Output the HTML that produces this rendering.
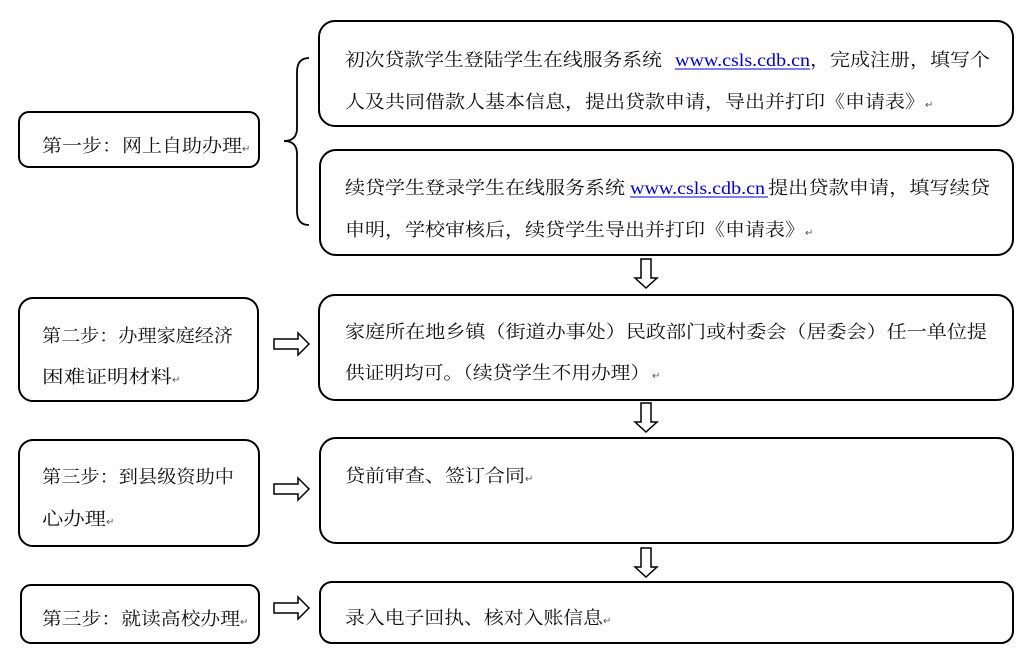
<!DOCTYPE html>
<html><head><meta charset="utf-8"><style>
html,body{margin:0;padding:0;background:#fff;}
svg text{font-family:"Liberation Serif","Noto Serif CJK SC",serif;font-size:18px;fill:#111;}
.r{font-size:10px;fill:#555;}
.l{fill:#0000cc;font-family:"Liberation Serif",serif;}
</style></head><body>
<svg width="1021" height="653" viewBox="0 0 1021 653" xmlns="http://www.w3.org/2000/svg">
<g fill="none" stroke="#000" stroke-width="2">
<rect x="19" y="112" width="240" height="55" rx="10"/>
<rect x="19" y="298" width="239" height="103" rx="14"/>
<rect x="19" y="440" width="240" height="106" rx="14"/>
<rect x="21" y="585" width="238" height="58" rx="10"/>
<rect x="319" y="21" width="694" height="105" rx="16"/>
<rect x="320" y="150" width="693" height="105" rx="16"/>
<rect x="319" y="295" width="694" height="105" rx="16"/>
<rect x="320" y="438" width="693" height="105" rx="16"/>
<rect x="320" y="582" width="693" height="61" rx="12"/>
<path d="M309 58 Q297 58 297 72 L297 128 Q297 141 284 141 Q297 141 297 154 L297 211 Q297 225 309 225" stroke-width="1.8"/>
</g>
<g fill="#fff" stroke="#000" stroke-width="1.5">
<path d="M641 259 h10 v19 h6 l-11 10 l-11 -10 h6 z"/>
<path d="M641 403 h10 v19 h6 l-11 10 l-11 -10 h6 z"/>
<path d="M641 548 h10 v19 h6 l-11 10 l-11 -10 h6 z"/>
<path d="M274 339 h24 v-6 l11 11 l-11 11 v-6 h-24 z"/>
<path d="M274 484 h24 v-6 l11 11 l-11 11 v-6 h-24 z"/>
<path d="M274 603 h24 v-6 l11 11 l-11 11 v-6 h-24 z"/>
</g>
<text x="42" y="152" textLength="200" lengthAdjust="spacingAndGlyphs">第一步：网上自助办理</text><text class="r" x="242" y="152">↵</text>
<text x="42" y="342" textLength="191" lengthAdjust="spacingAndGlyphs">第二步：办理家庭经济</text>
<text x="42" y="383" textLength="130" lengthAdjust="spacingAndGlyphs">困难证明材料</text><text class="r" x="172" y="383">↵</text>
<text x="42" y="483" textLength="192" lengthAdjust="spacingAndGlyphs">第三步：到县级资助中</text>
<text x="42" y="525" textLength="64" lengthAdjust="spacingAndGlyphs">心办理</text><text class="r" x="106" y="525">↵</text>
<text x="42" y="625" textLength="198" lengthAdjust="spacingAndGlyphs">第三步：就读高校办理</text><text class="r" x="240" y="625">↵</text>

<text x="345" y="66" textLength="317" lengthAdjust="spacingAndGlyphs">初次贷款学生登陆学生在线服务系统</text>
<text class="l" x="675" y="66" textLength="135" lengthAdjust="spacingAndGlyphs">www.csls.cdb.cn</text>
<line x1="675" y1="69" x2="810" y2="69" stroke="#0000cc" stroke-width="1"/>
<text x="810" y="66" textLength="180" lengthAdjust="spacingAndGlyphs">，完成注册，填写个</text>
<text x="345" y="108" textLength="580" lengthAdjust="spacingAndGlyphs">人及共同借款人基本信息，提出贷款申请，导出并打印《申请表》</text><text class="r" x="925" y="108">↵</text>

<text x="345" y="194" textLength="280" lengthAdjust="spacingAndGlyphs">续贷学生登录学生在线服务系统</text>
<text class="l" x="630" y="194" textLength="135" lengthAdjust="spacingAndGlyphs">www.csls.cdb.cn</text>
<line x1="630" y1="197" x2="768" y2="197" stroke="#0000cc" stroke-width="1"/>
<text x="768" y="194" textLength="222" lengthAdjust="spacingAndGlyphs">提出贷款申请，填写续贷</text>
<text x="345" y="236" textLength="460" lengthAdjust="spacingAndGlyphs">申明，学校审核后，续贷学生导出并打印《申请表》</text><text class="r" x="805" y="236">↵</text>

<text x="345" y="338" textLength="642" lengthAdjust="spacingAndGlyphs">家庭所在地乡镇（街道办事处）民政部门或村委会（居委会）任一单位提</text>
<text x="345" y="379" textLength="305" lengthAdjust="spacingAndGlyphs">供证明均可。（续贷学生不用办理）</text><text class="r" x="652" y="379">↵</text>
<text x="345" y="482" textLength="180" lengthAdjust="spacingAndGlyphs">贷前审查、签订合同</text><text class="r" x="525" y="482">↵</text>
<text x="345" y="624" textLength="258" lengthAdjust="spacingAndGlyphs">录入电子回执、核对入账信息</text><text class="r" x="603" y="624">↵</text>
</svg>
</body></html>
